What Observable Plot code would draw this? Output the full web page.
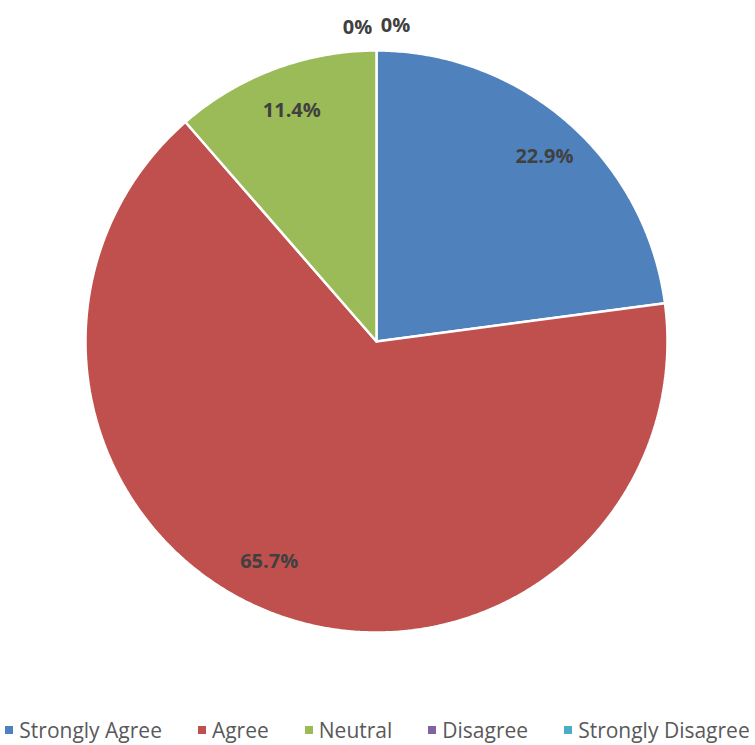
<!DOCTYPE html>
<html>
<head>
<meta charset="utf-8">
<script src="https://cdn.jsdelivr.net/npm/d3@7"></script>
<script src="https://cdn.jsdelivr.net/npm/@observablehq/plot@0.6"></script>
<style>
  body { margin: 0; background: #fff; font-family: "Open Sans", "Liberation Sans", sans-serif; }
  #legend { display: flex; justify-content: center; gap: 36px; margin-top: 27px; font-size: 21px; color: #595959; line-height: 26px; }
  #legend .item { display: flex; align-items: center; white-space: nowrap; }
  #legend .sw { width: 8px; height: 8px; margin-right: 6px; display: inline-block; }
</style>
</head>
<body>
<div id="chart"></div>
<div id="legend"></div>
<script>
const categories = ["Strongly Agree", "Agree", "Neutral", "Disagree", "Strongly Disagree"];
const values = [22.9, 65.7, 11.4, 0, 0];
const labels = ["22.9%", "65.7%", "11.4%", "0%", "0%"];
const colors = ["#4F81BD", "#C0504D", "#9BBB59", "#8064A2", "#4BACC6"];

const total = d3.sum(values);
let acc = 0;
const slices = categories.map((c, i) => {
  const a0 = acc / total * 2 * Math.PI;
  acc += values[i];
  const a1 = acc / total * 2 * Math.PI;
  return {category: c, value: values[i], label: labels[i], a0, a1, mid: (a0 + a1) / 2};
});

const pts = [];
for (const s of slices) {
  if (s.value <= 0) continue;
  pts.push({category: s.category, x: 0, y: 0});
  const n = Math.max(2, Math.ceil((s.a1 - s.a0) / (Math.PI / 360)));
  for (let k = 0; k <= n; k++) {
    const a = s.a0 + (s.a1 - s.a0) * k / n;
    pts.push({category: s.category, x: Math.sin(a), y: Math.cos(a)});
  }
  pts.push({category: s.category, x: 0, y: 0});
}

const labelPts = slices.filter(s => s.value > 0).map(s => {
  const r = s.category === "Agree" ? 0.81 : 0.86;
  return {category: s.category, label: s.label, x: r * Math.sin(s.mid), y: r * Math.cos(s.mid)};
});
const zeroPts = slices.filter(s => s.value === 0).map(s => ({
  category: s.category, label: s.label, x: 0, y: 1.08
}));

const W = 755, H = 690, CX = 376, CY = 341, R = 291;
const lab = {fill: "#404040", fontSize: 20, fontWeight: "bold"};
const chart = Plot.plot({
  width: W, height: H,
  margin: 0,
  x: {domain: [-CX / R, (W - CX) / R], axis: null},
  y: {domain: [(CY - H) / R, CY / R], axis: null},
  color: {domain: categories, range: colors},
  marks: [
    Plot.line(pts, {x: "x", y: "y", z: "category", fill: "category", stroke: "white", strokeWidth: 2.5, strokeLinejoin: "miter", curve: "linear"}),
    Plot.text(labelPts.filter(d => d.category !== "Agree"), {x: "x", y: "y", text: "label", dx: 3, dy: 3, ...lab}),
    Plot.text(labelPts.filter(d => d.category === "Agree"), {x: "x", y: "y", text: "label", dx: -24, ...lab}),
    Plot.text(zeroPts.filter(d => d.category === "Disagree"), {x: "x", y: "y", text: "label", dx: -19, ...lab}),
    Plot.text(zeroPts.filter(d => d.category === "Strongly Disagree"), {x: "x", y: "y", text: "label", dx: 19, dy: -2, ...lab})
  ],
  style: {fontFamily: "'Open Sans', 'Liberation Sans', sans-serif", background: "white"}
});
document.getElementById("chart").appendChild(chart);

const legend = document.getElementById("legend");
categories.forEach((c, i) => {
  const it = document.createElement("div");
  it.className = "item";
  const sw = document.createElement("span");
  sw.className = "sw";
  sw.style.background = colors[i];
  it.appendChild(sw);
  it.appendChild(document.createTextNode(c));
  legend.appendChild(it);
});
</script>
</body>
</html>
